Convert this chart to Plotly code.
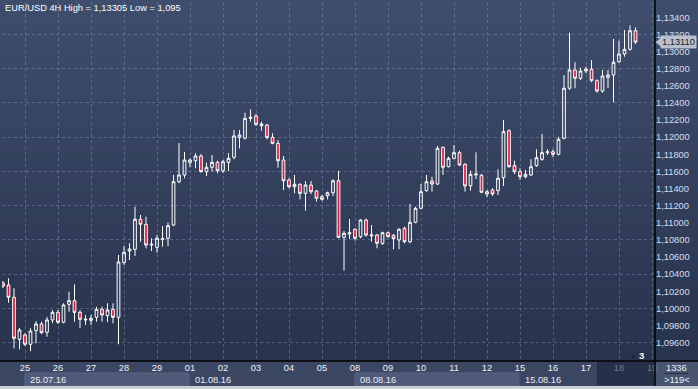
import plotly.graph_objects as go

# ---------------- data (EUR/USD, 4H candles) ----------------
open_ = [1.10297, 1.10273, 1.10130, 1.09639, 1.09689, 1.09581, 1.09740, 1.09818, 1.09721, 1.09865,
         1.09954, 1.09838, 1.10048, 1.10090, 1.09954, 1.09865, 1.09861, 1.09896, 1.09989, 1.09915,
         1.09989, 1.09896, 1.10534, 1.10670, 1.10690, 1.11041, 1.10982, 1.10740, 1.10714, 1.10807,
         1.10819, 1.10974, 1.11480, 1.11558, 1.11702, 1.11725, 1.11780, 1.11597, 1.11648, 1.11706,
         1.11608, 1.11706, 1.11765, 1.11998, 1.11987, 1.12220, 1.12247, 1.12134, 1.12142, 1.11998,
         1.11928, 1.11733, 1.11500, 1.11421, 1.11449, 1.11344, 1.11441, 1.11371, 1.11305, 1.11316,
         1.11351, 1.11491, 1.10830, 1.10869, 1.10924, 1.10837, 1.11032, 1.10846, 1.10857, 1.10760,
         1.10884, 1.10854, 1.10799, 1.10936, 1.10779, 1.11006, 1.11169, 1.11375, 1.11488, 1.11453,
         1.11882, 1.11655, 1.11753, 1.11819, 1.11683, 1.11433, 1.11558, 1.11555, 1.11363, 1.11383,
         1.11375, 1.11527, 1.12075, 1.11667, 1.11597, 1.11538, 1.11558, 1.11667, 1.11741, 1.11819,
         1.11830, 1.11800, 1.11987, 1.12571, 1.12784, 1.12688, 1.12773, 1.12793, 1.12660, 1.12539,
         1.12699, 1.12726, 1.12881, 1.12971, 1.13026, 1.13243]
high = [1.10320, 1.10352, 1.10235, 1.09771, 1.09709, 1.09768, 1.09853, 1.09845, 1.09900, 1.09981,
        1.09981, 1.10060, 1.10195, 1.10281, 1.09981, 1.09923, 1.09923, 1.10020, 1.10020, 1.10060,
        1.10060, 1.10624, 1.10729, 1.10760, 1.11188, 1.11091, 1.11071, 1.10819, 1.10857, 1.10962,
        1.11001, 1.11558, 1.11932, 1.11827, 1.11753, 1.11812, 1.11803, 1.11702, 1.11792, 1.11725,
        1.11733, 1.11812, 1.12084, 1.12084, 1.12286, 1.12325, 1.12271, 1.12181, 1.12154, 1.12045,
        1.11967, 1.11780, 1.11520, 1.11558, 1.11461, 1.11488, 1.11488, 1.11383, 1.11324, 1.11363,
        1.11508, 1.11605, 1.10904, 1.11044, 1.10936, 1.11041, 1.11048, 1.10974, 1.10869, 1.10896,
        1.10896, 1.10869, 1.10936, 1.10954, 1.11219, 1.11188, 1.11453, 1.11558, 1.11538, 1.11897,
        1.11890, 1.11772, 1.11908, 1.11842, 1.11695, 1.11608, 1.11823, 1.11570, 1.11383, 1.11403,
        1.11625, 1.12200, 1.12091, 1.11725, 1.11636, 1.11616, 1.11741, 1.11858, 1.12037, 1.11858,
        1.11858, 1.12005, 1.12726, 1.13220, 1.12874, 1.12811, 1.12823, 1.12901, 1.12676, 1.12784,
        1.12784, 1.13147, 1.13127, 1.13252, 1.13305, 1.13283]
low = [1.10238, 1.10067, 1.09534, 1.09522, 1.09561, 1.09500, 1.09592, 1.09701, 1.09669, 1.09829,
       1.09818, 1.09826, 1.09961, 1.09845, 1.09768, 1.09806, 1.09806, 1.09845, 1.09845, 1.09838,
       1.09826, 1.09581, 1.10507, 1.10565, 1.10612, 1.10779, 1.10702, 1.10670, 1.10651, 1.10721,
       1.10729, 1.10962, 1.11461, 1.11520, 1.11648, 1.11636, 1.11585, 1.11546, 1.11597, 1.11578,
       1.11582, 1.11605, 1.11741, 1.11870, 1.11975, 1.12181, 1.12130, 1.12075, 1.11975, 1.11917,
       1.11643, 1.11383, 1.11403, 1.11344, 1.11274, 1.11141, 1.11336, 1.11246, 1.11258, 1.11274,
       1.11313, 1.10819, 1.10440, 1.10811, 1.10791, 1.10819, 1.10837, 1.10779, 1.10702, 1.10740,
       1.10830, 1.10690, 1.10690, 1.10760, 1.10760, 1.10994, 1.11157, 1.11363, 1.11363, 1.11441,
       1.11558, 1.11648, 1.11741, 1.11663, 1.11363, 1.11375, 1.11511, 1.11348, 1.11298, 1.11313,
       1.11324, 1.11430, 1.11643, 1.11570, 1.11500, 1.11520, 1.11546, 1.11655, 1.11725, 1.11792,
       1.11765, 1.11788, 1.11975, 1.12551, 1.12571, 1.12668, 1.12746, 1.12641, 1.12519, 1.12519,
       1.12574, 1.12407, 1.12870, 1.12940, 1.13010, 1.13088]
close = [1.10262, 1.10130, 1.09651, 1.09748, 1.09581, 1.09736, 1.09818, 1.09716, 1.09865, 1.09954,
         1.09838, 1.10040, 1.10090, 1.09954, 1.09873, 1.09873, 1.09884, 1.09989, 1.09923, 1.09981,
         1.09896, 1.10542, 1.10655, 1.10694, 1.11041, 1.10982, 1.10740, 1.10749, 1.10819, 1.10814,
         1.10966, 1.11480, 1.11558, 1.11733, 1.11733, 1.11780, 1.11597, 1.11648, 1.11706, 1.11608,
         1.11713, 1.11753, 1.12014, 1.12025, 1.12220, 1.12232, 1.12150, 1.12154, 1.11998, 1.11928,
         1.11725, 1.11491, 1.11421, 1.11449, 1.11344, 1.11441, 1.11363, 1.11286, 1.11274, 1.11351,
         1.11491, 1.10830, 1.10877, 1.10884, 1.10819, 1.11032, 1.10857, 1.10857, 1.10760, 1.10884,
         1.10837, 1.10814, 1.10924, 1.10779, 1.11006, 1.11169, 1.11363, 1.11480, 1.11453, 1.11870,
         1.11648, 1.11753, 1.11819, 1.11675, 1.11430, 1.11566, 1.11570, 1.11356, 1.11336, 1.11336,
         1.11520, 1.12064, 1.11655, 1.11597, 1.11538, 1.11566, 1.11655, 1.11760, 1.11819, 1.11830,
         1.11800, 1.11975, 1.12571, 1.12784, 1.12688, 1.12773, 1.12793, 1.12660, 1.12539, 1.12714,
         1.12726, 1.12874, 1.12971, 1.13026, 1.13243, 1.13110]

candle_index = list(range(len(close)))          # one slot per 4H candle
day_labels = ["25", "26", "27", "28", "29", "01", "02", "03", "04", "05",
              "08", "09", "10", "11", "12", "15", "16", "17", "18", "19"]
first_day_slot = 4                               # candle slot of 25.07 00:00
candles_per_day = 6
week_labels = ["25.07.16", "01.08.16", "08.08.16", "15.08.16"]
future_days = ["18", "19"]
price_ticks = [1.096, 1.098, 1.100, 1.102, 1.104, 1.106, 1.108, 1.110, 1.112, 1.114,
               1.116, 1.118, 1.120, 1.122, 1.124, 1.126, 1.128, 1.130, 1.132, 1.134]
grid_ticks = price_ticks[::2]
info_top, info_bottom = "1336", ">119<"
marker_count = "3"

day_slots = [first_day_slot + candles_per_day * k for k in range(len(day_labels))]
week_slots = [day_slots[5 * k] for k in range(len(week_labels))]

# ---------------- geometry / style ----------------
W, H = 698, 389
ML, MR, MT, MB = 2, 43, 2, 28
PW, PH = W - ML - MR, H - MT - MB
px_per_slot = 5.5
x_lo = -1.0 / px_per_slot
x_hi = x_lo + PW / px_per_slot
y_lo, y_hi = 1.093856, 1.135787

FONT = "Liberation Sans, Arial, sans-serif"
grid_col = "rgba(120,138,175,0.55)"


def px_x(p):   # pixel -> paper x
    return (p - ML) / PW


def px_y(p):   # pixel -> paper y
    return (H - MB - p) / PH


fig = go.Figure()

fig.add_trace(go.Candlestick(
    x=candle_index, open=open_, high=high, low=low, close=close,
    increasing=dict(line=dict(color="#ffffff", width=1), fillcolor="rgba(0,0,0,0)"),
    decreasing=dict(line=dict(color="#ffffff", width=1), fillcolor="#e2173d"),
    whiskerwidth=0, showlegend=False, hoverinfo="skip",
))
# helper trace so the labelled right axis is drawn
fig.add_trace(go.Scatter(x=[candle_index[-1]], y=[close[-1]], yaxis="y2", mode="markers",
                         marker=dict(opacity=0), showlegend=False, hoverinfo="skip"))

shapes = []
# gradient background across plot + right panel
n_bands = 40
top_c, bot_c = (63, 77, 108), (40, 51, 77)
y_top_paper = px_y(0)
for i in range(n_bands):
    t = i / (n_bands - 1)
    c = tuple(round(top_c[k] + (bot_c[k] - top_c[k]) * t) for k in range(3))
    y1 = y_top_paper - (y_top_paper - 0) * i / n_bands
    y0 = y_top_paper - (y_top_paper - 0) * (i + 1) / n_bands
    shapes.append(dict(type="rect", xref="paper", yref="paper", x0=px_x(-1), x1=px_x(W + 1),
                       y0=y0 - 0.002, y1=y1, fillcolor="rgb(%d,%d,%d)" % c, line=dict(width=0),
                       layer="below"))
# bottom axis strip
shapes.append(dict(type="rect", xref="paper", yref="paper", x0=px_x(-1), x1=px_x(W + 1),
                   y0=px_y(386), y1=0, fillcolor="rgb(58,70,98)", line=dict(width=0), layer="below"))
# week boxes (alternate weeks)
for k in (0, 2):
    shapes.append(dict(type="rect", xref="x", yref="paper", x0=week_slots[k],
                       x1=week_slots[k] + 5 * candles_per_day - 0.2,
                       y0=px_y(386), y1=px_y(373), fillcolor="rgb(78,90,119)",
                       line=dict(color="rgb(88,100,128)", width=1), layer="below"))
# darker future area in the bottom axis
shapes.append(dict(type="rect", xref="paper", yref="paper", x0=px_x(596), x1=1,
                   y0=px_y(386), y1=0, fillcolor="rgb(38,48,72)",
                   line=dict(color="rgb(70,80,105)", width=1), layer="below"))
# bottom-right info box
shapes.append(dict(type="rect", xref="paper", yref="paper", x0=1, x1=px_x(W + 1),
                   y0=px_y(386), y1=0, fillcolor="rgb(72,84,112)", line=dict(width=0), layer="below"))
shapes.append(dict(type="line", xref="paper", yref="paper", x0=px_x(664), x1=px_x(689),
                   y0=px_y(373.5), y1=px_y(373.5), line=dict(color="rgb(40,48,66)", width=1)))
# light frame at the bottom
shapes.append(dict(type="rect", xref="paper", yref="paper", x0=px_x(-1), x1=px_x(W + 1),
                   y0=px_y(H + 1), y1=px_y(386), fillcolor="rgb(200,207,216)", line=dict(width=0)))
# black separators
shapes.append(dict(type="line", xref="paper", yref="paper", x0=px_x(-1), x1=px_x(W + 1),
                   y0=0, y1=0, line=dict(color="#000000", width=1.5)))
shapes.append(dict(type="line", xref="paper", yref="paper", x0=1, x1=1,
                   y0=px_y(386), y1=px_y(0), line=dict(color="#000000", width=1.5)))
# last-price tag notch
last = close[-1]
shapes.append(dict(type="path", xref="paper", yref="y",
                   path="M %f,%f L %f,%f L %f,%f Z" % (px_x(655.5), last, px_x(661), last + 0.00055,
                                                        px_x(661), last - 0.00055),
                   fillcolor="rgb(185,193,204)", line=dict(width=0)))

annotations = []
fmt = lambda v: ("%.5f" % v).rstrip("0").replace(".", ",")
annotations.append(dict(xref="paper", yref="paper", x=px_x(3), y=px_y(8.5), xanchor="left",
                        yanchor="middle", showarrow=False,
                        text="EUR/USD 4H High = %s Low = %s" % (fmt(max(high)), fmt(min(low))),
                        font=dict(family=FONT, size=9.3, color="#ffffff")))
for k, lab in enumerate(week_labels):
    annotations.append(dict(xref="x", yref="paper", x=week_slots[k], y=px_y(379.5), xanchor="left",
                            yanchor="middle", xshift=3, showarrow=False, text=lab,
                            font=dict(family=FONT, size=9.3, color="#e8edf5")))
annotations.append(dict(xref="paper", yref="y", x=px_x(660), y=last, xanchor="left",
                        yanchor="middle", showarrow=False, text=("%.5f" % last).replace(".", ","),
                        bgcolor="rgb(185,193,204)", borderpad=1,
                        font=dict(family=FONT, size=9.3, color="#1b2233")))
annotations.append(dict(xref="paper", yref="paper", x=px_x(641), y=px_y(355.5), showarrow=False,
                        xanchor="center", yanchor="middle",
                        text="<b>%s</b>" % marker_count, font=dict(family=FONT, size=9.5, color="#ffffff")))
annotations.append(dict(xref="paper", yref="paper", x=px_x(633), y=px_y(356), showarrow=False,
                        xanchor="center", yanchor="middle",
                        text="▲", font=dict(family=FONT, size=6, color="rgb(24,31,48)")))
annotations.append(dict(xref="paper", yref="paper", x=px_x(676.5), y=px_y(367.5), showarrow=False,
                        xanchor="center", yanchor="middle",
                        text=info_top, font=dict(family=FONT, size=9.3, color="#eef2f8")))
annotations.append(dict(xref="paper", yref="paper", x=px_x(676.5), y=px_y(380), showarrow=False,
                        xanchor="center", yanchor="middle",
                        text=info_bottom.replace(">", "&gt;").replace("<", "&lt;"),
                        font=dict(family=FONT, size=9.3, color="#eef2f8")))

tick_text = [("<span style='color:#6f7a94'>%s</span>" % d) if d in future_days else d
             for d in day_labels]

fig.update_layout(
    width=W, height=H,
    margin=dict(l=ML, r=MR, t=MT, b=MB, pad=0),
    paper_bgcolor="rgb(63,77,108)", plot_bgcolor="rgba(0,0,0,0)",
    separators=", ",
    font=dict(family=FONT, size=9.3, color="#e8edf5"),
    showlegend=False,
    xaxis=dict(range=[x_lo, x_hi], tickmode="array", tickvals=day_slots, ticktext=tick_text,
               showgrid=True, gridcolor=grid_col, griddash="3px,3px", gridwidth=1,
               zeroline=False, showline=False, ticks="", ticklen=0,
               tickfont=dict(family=FONT, size=9.3, color="#eef2f8"),
               rangeslider=dict(visible=False), fixedrange=True),
    yaxis=dict(range=[y_lo, y_hi], tickmode="array", tickvals=grid_ticks, showticklabels=False,
               showgrid=True, gridcolor=grid_col, griddash="3px,3px", gridwidth=1,
               zeroline=False, showline=False, ticks="", side="right", fixedrange=True),
    yaxis2=dict(range=[y_lo, y_hi], overlaying="y", side="right", tickmode="array",
                tickvals=price_ticks, tickformat=".5f", showgrid=False, zeroline=False,
                showline=False, ticks="", fixedrange=True,
                tickfont=dict(family=FONT, size=9.3, color="#d3def0")),
    shapes=shapes, annotations=annotations,
)

fig.write_html("out.html", config={"displayModeBar": False, "staticPlot": True},
               post_script="document.body.style.margin='0';document.body.style.overflow='hidden';")
